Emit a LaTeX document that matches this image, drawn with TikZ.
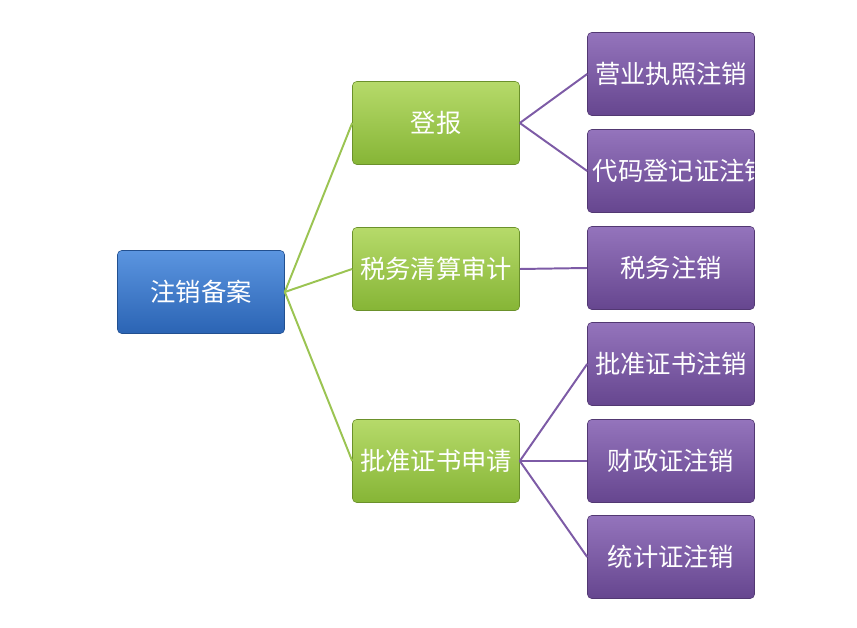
\documentclass[tikz,border=0pt]{standalone}
\usepackage{fontspec}
\setmainfont{Noto Sans CJK SC}
\usetikzlibrary{positioning}

\definecolor{rootTop}{HTML}{5B95E0}
\definecolor{rootBot}{HTML}{2B64B4}
\definecolor{midTop}{HTML}{B6DA6A}
\definecolor{midBot}{HTML}{86B536}
\definecolor{leafTop}{HTML}{9474BC}
\definecolor{leafBot}{HTML}{66468F}
\definecolor{midLine}{HTML}{9BC452}
\definecolor{leafLine}{HTML}{7D5BA6}

\begin{document}
\begin{tikzpicture}[
    x=0.025cm, y=-0.025cm,
    box/.style={
        rounded corners=3pt,
        minimum width=4.175cm,
        minimum height=2.075cm,
        text width=3.9cm,
        align=center,
        text=white,
        font=\fontsize{18}{23}\selectfont,
        inner sep=1pt
    },
    rootbox/.style={box, top color=rootTop, bottom color=rootBot, draw=rootBot!80!black},
    midbox/.style={box, top color=midTop, bottom color=midBot, draw=midBot!80!black},
    leafbox/.style={box, top color=leafTop, bottom color=leafBot, draw=leafBot!80!black},
    midlink/.style={midLine, line width=1.4pt},
    leaflink/.style={leafLine, line width=1.4pt}
]
\useasboundingbox (0,0) rectangle (857,628);

% root
\node[rootbox] (root) at (201,292) {注销备案};

% second level
\node[midbox] (report) at (436,123) {登报};
\node[midbox] (audit) at (436,269) {税务清算审计};
\node[midbox] (apply) at (436,461) {批准证书申请};

% leaves
\node[leafbox] (license) at (671,74) {营业执照注销};
\node[leafbox] (code) at (671,171) {代码登记证注销};
\node[leafbox] (tax) at (671,268) {税务注销};
\node[leafbox] (cert) at (671,364) {批准证书注销};
\node[leafbox] (finance) at (671,461) {财政证注销};
\node[leafbox] (stats) at (671,557) {统计证注销};

% links
\foreach \t in {report,audit,apply}
    \draw[midlink] (root.east) -- (\t.west);
\foreach \t in {license,code}
    \draw[leaflink] (report.east) -- (\t.west);
\draw[leaflink] (audit.east) -- (tax.west);
\foreach \t in {cert,finance,stats}
    \draw[leaflink] (apply.east) -- (\t.west);

\end{tikzpicture}
\end{document}
